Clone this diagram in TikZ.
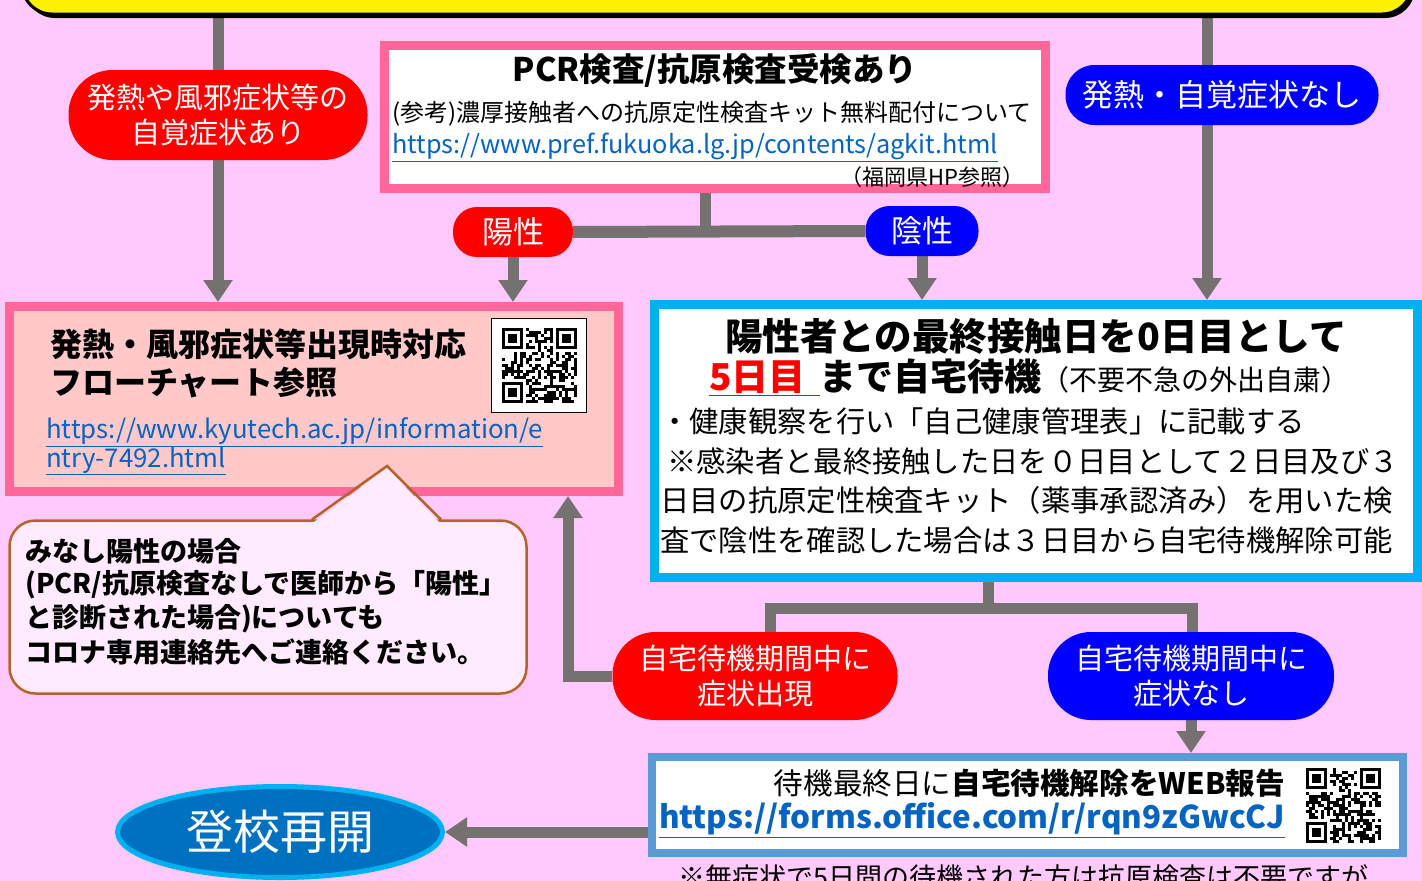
\documentclass[tikz,border=0pt]{standalone}
\usepackage{fontspec}
\setmainfont{Noto Sans CJK JP}
\usetikzlibrary{arrows.meta,shapes.geometric}
\definecolor{bgpink}{HTML}{FFC9FC}
\definecolor{lgray}{HTML}{767171}
\definecolor{pinkb}{HTML}{FF6699}
\definecolor{salmon}{HTML}{FFC9C9}
\definecolor{cyanb}{HTML}{00B0F0}
\definecolor{steel}{HTML}{5B9BD5}
\definecolor{linkb}{HTML}{0563C1}
\definecolor{callfill}{HTML}{FFEBFD}
\definecolor{brownb}{HTML}{B4642A}
\definecolor{darkblue}{HTML}{0070C0}
\definecolor{pblue}{HTML}{0000FF}
\definecolor{pred}{HTML}{FF0000}
\pgfdeclarelayer{bg}\pgfsetlayers{bg,main}
\newcommand\fsz[1]{\fontsize{#1}{#1}\selectfont}
\newcommand\qrpat[4]{%
  \pgfmathsetseed{#4}%
  \foreach \i in {0,...,24}{\foreach \j in {0,...,24}{%
    \pgfmathsetmacro\qv{rnd}%
    \ifdim\qv pt<0.5pt \fill[black] ({#1+\i*#3},{#2+\j*#3}) rectangle ++(#3,#3);\fi
  }}%
  \foreach \a/\b in {0/0,18/0,0/18}{%
    \fill[white] ({#1+(\a-1)*#3},{#2+(\b-1)*#3}) rectangle ++(9*#3,9*#3);
    \fill[black] ({#1+\a*#3},{#2+\b*#3}) rectangle ++(7*#3,7*#3);
    \fill[white] ({#1+(\a+1)*#3},{#2+(\b+1)*#3}) rectangle ++(5*#3,5*#3);
    \fill[black] ({#1+(\a+2)*#3},{#2+(\b+2)*#3}) rectangle ++(3*#3,3*#3);
  }%
}
\begin{document}
\begin{tikzpicture}[x=1pt,y=-1pt,
  conn/.style={draw=lgray, line width=11pt, line join=miter},
  arr/.style={conn, -{Triangle[width=28pt,length=22pt]}},
  pill/.style={rectangle, inner sep=0, text=white, align=center},
  txt/.style={inner sep=0, anchor=west},
  frame/.style={fill=white, inner sep=0}]
\useasboundingbox (0,0) rectangle (1422,881);

% top yellow box
\fill[black, rounded corners=30pt] (25,-46) rectangle (1415,18);
\node[draw=black, line width=3pt, fill=yellow, rounded corners=30pt, minimum width=1390pt, minimum height=60pt, inner sep=0] (topbox) at (717,-16) {};

% PCR box
\node[frame, draw=pinkb, line width=9pt, minimum width=661pt, minimum height=143pt] (pcr) at (715,117) {};
\node[txt, anchor=center, font=\fsz{32.5}\bfseries] (pcrt) at (715,70) {PCR検査/抗原検査受検あり};
\node[txt, font=\fsz{24}] (pcr2) at (392,114) {(参考)濃厚接触者への抗原定性検査キット無料配付について};
\node[txt, font=\fsz{25.3}, text=linkb] (pcr3) at (392,147) {\underline{https://www.pref.fukuoka.lg.jp/contents/agkit.html}};
\node[txt, anchor=east, font=\fsz{22}] (pcr4) at (1025,177) {（福岡県HP参照）};

% left box
\node[draw=pinkb, line width=9pt, fill=salmon, minimum width=609pt, minimum height=185pt, inner sep=0] (leftbox) at (314,399) {};
\node[txt, font=\fsz{32}\bfseries] (lb1) at (50,344) {発熱・風邪症状等出現時対応};
\node[txt, font=\fsz{32}\bfseries] (lb2) at (50,383) {フローチャート参照};
\node[txt, font=\fsz{25.8}, text=linkb] (lb3) at (46,432) {\underline{https://www.kyutech.ac.jp/information/e}};
\node[txt, font=\fsz{25.8}, text=linkb] (lb4) at (46,461) {\underline{ntry-7492.html}};
\node[frame, draw=black, line width=1.5pt, minimum width=95pt, minimum height=94pt] (qr1) at (539,365.5) {};
\qrpat{501.5}{328}{3}{7}

% blue box
\node[frame, draw=cyanb, line width=9pt, minimum width=763pt, minimum height=273pt] (bluebox) at (1036,441) {};
\node[txt, anchor=center, font=\fsz{37.5}\bfseries] (bb1) at (1036,336) {陽性者との最終接触日を0日目として};
\node[txt, font=\fsz{37}\bfseries] (bb2) at (709,377) {\textcolor{pred}{\underline{5日目\hspace{14pt}}}まで自宅待機{\fsz{28}\mdseries（不要不急の外出自粛）}};
\node[txt, font=\fsz{29.3}] (bb3) at (660,421) {・健康観察を行い「自己健康管理表」に記載する};
\node[txt, font=\fsz{29.3}] (bb4) at (660,461) {\hspace{7pt}※感染者と最終接触した日を０日目として２日目及び３};
\node[txt, font=\fsz{29.3}] (bb5) at (660,500) {日目の抗原定性検査キット（薬事承認済み）を用いた検};
\node[txt, font=\fsz{29.3}] (bb6) at (660,540) {査で陰性を確認した場合は３日目から自宅待機解除可能};

% callout
\node[draw=brownb, line width=2.5pt, fill=callfill, rounded corners=26pt, minimum width=517pt, minimum height=173pt, inner sep=0] (callout) at (268,607) {};
\fill[callfill] (314,522) -- (387,468) -- (439,522) -- cycle;
\draw[brownb, line width=2.5pt, line join=miter] (312,519.5) -- (387,466) -- (441,519.5);
\node[txt, font=\fsz{27}\bfseries] (c1) at (25,551) {みなし陽性の場合};
\node[txt, font=\fsz{27}\bfseries] (c2) at (25,585) {(PCR/抗原検査なしで医師から「陽性」};
\node[txt, font=\fsz{27}\bfseries] (c3) at (25,619) {と診断された場合)についても};
\node[txt, font=\fsz{27}\bfseries] (c4) at (25,652) {コロナ専用連絡先へご連絡ください。};

% pills
\node[pill, fill=pred, minimum width=299pt, minimum height=90pt, rounded corners=44pt, font=\fontsize{29}{35}\selectfont] (pillL) at (218,115) {発熱や風邪症状等の\\自覚症状あり};
\node[pill, fill=pblue, minimum width=313pt, minimum height=60pt, rounded corners=29pt, font=\fsz{31}] (pillR) at (1222,95) {発熱・自覚症状なし};
\node[pill, fill=pred, minimum width=120pt, minimum height=50pt, rounded corners=24pt, font=\fsz{31}] (yousei) at (513,232) {陽性};
\node[pill, fill=pblue, minimum width=113pt, minimum height=50pt, rounded corners=24pt, font=\fsz{31}] (insei) at (922,231) {陰性};
\node[pill, fill=pred, minimum width=285pt, minimum height=88pt, rounded corners=43pt, font=\fontsize{29}{35}\selectfont] (sympR) at (755,676) {自宅待機期間中に\\症状出現};
\node[pill, fill=pblue, minimum width=286pt, minimum height=88pt, rounded corners=43pt, font=\fontsize{29}{35}\selectfont] (sympB) at (1191,676) {自宅待機期間中に\\症状なし};

% bottom box
\node[frame, draw=steel, line width=8pt, minimum width=751pt, minimum height=96pt] (bbox) at (1027.5,805) {};
\node[txt, anchor=east, font=\fsz{29.6}] (w1) at (1285,783) {待機最終日に\textbf{自宅待機解除をWEB報告}};
\node[txt, anchor=east, font=\fsz{31.4}\bfseries, text=linkb] (w2) at (1285,820) {\underline{https://forms.office.com/r/rqn9zGwcCJ}};
\qrpat{1306}{768}{3}{11}

% ellipse
\node[ellipse, draw=cyanb, line width=5pt, fill=darkblue, minimum width=325pt, minimum height=91pt, inner sep=0, text=white, font=\fsz{47}] (resume) at (280,832) {登校再開};

% note
\node[txt, font=\fsz{27}] (note) at (678,877) {※無症状で5日間の待機された方は抗原検査は不要ですが};

% connectors
\begin{pgfonlayer}{bg}
\fill[bgpink] (0,0) rectangle (1422,881);
\coordinate (rx) at (1207,0);
\coordinate (j1) at (705,231);
\coordinate (j2) at (988,608);
\coordinate (jl) at (770,608);
\coordinate (jr) at (1192,608);
\coordinate (lx2) at (568,0);
\draw[arr] (topbox.south -| pillL) -- (leftbox.north -| pillL);
\draw[arr] (topbox.south -| rx) -- (bluebox.north -| rx);
\draw[conn] (pcr.south -| j1) -- (j1);
\draw[conn, line width=12pt] (yousei.east) -- (insei.west);
\draw[arr] (yousei.south) -- (leftbox.north -| yousei);
\draw[arr] (insei.south) -- (bluebox.north -| insei);
\draw[conn] (bluebox.south -| j2) -- (j2);
\draw[conn] (sympR.north -| jl) -- (jl) -- (jr) -- (sympB.north -| jr);
\draw[arr] (sympR.west) -| (leftbox.south -| lx2);
\draw[arr] (sympB.south) -- (bbox.north -| sympB);
\draw[arr] (bbox.west |- resume) -- (resume.east);
\end{pgfonlayer}
\end{tikzpicture}
\end{document}
